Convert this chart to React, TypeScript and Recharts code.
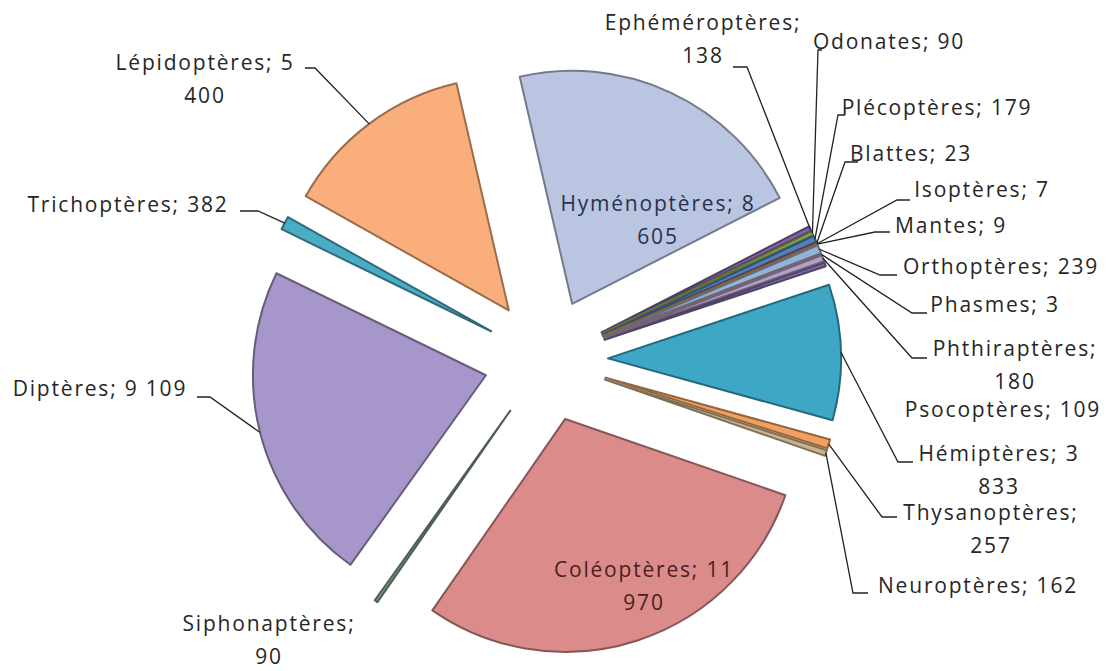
import { Cell, Pie, PieChart, Sector } from "recharts";

const ORDERS = [
  "Hyménoptères",
  "Ephéméroptères",
  "Odonates",
  "Plécoptères",
  "Blattes",
  "Isoptères",
  "Mantes",
  "Orthoptères",
  "Phasmes",
  "Phthiraptères",
  "Psocoptères",
  "Hémiptères",
  "Thysanoptères",
  "Neuroptères",
  "Coléoptères",
  "Siphonaptères",
  "Diptères",
  "Trichoptères",
  "Lépidoptères",
];
const COUNTS = [
  8605, 138, 90, 179, 23, 7, 9, 239, 3, 180, 109, 3833, 257, 162, 11970, 90,
  9109, 382, 5400,
];
const COLORS = [
  "#b9c5e1", "#8064a2", "#9bbb59", "#4f81bd", "#c0504d", "#4bacc6", "#f79646",
  "#95b3d7", "#d99694", "#b3a2c7", "#7f6aa6", "#3ea7c6", "#f0a060", "#c9b48a",
  "#da8b8a", "#7f9a86", "#a696c9", "#4bacc6", "#f9ae7b",
];
// words kept on the first line of each label (0 = one line)
const LINE_BREAKS = [2, 1, 0, 0, 0, 0, 0, 0, 0, 1, 0, 2, 1, 0, 2, 1, 0, 0, 2];

// label placement: text centre, first line y, and the elbow of the leader line
const LABEL_SPOTS: { x: number; y: number; elbow?: number[][]; color?: string }[] = [
  { x: 658, y: 203, color: "#27324d" },
  { x: 703, y: 22, elbow: [[733, 67], [747, 67]] },
  { x: 889, y: 41, elbow: [[822, 50], [818, 50]] },
  { x: 937, y: 107, elbow: [[845, 115], [838, 115]] },
  { x: 911, y: 153, elbow: [[858, 162], [845, 162]] },
  { x: 982, y: 189, elbow: [[910, 200], [897, 200]] },
  { x: 951, y: 225, elbow: [[890, 232], [875, 232]] },
  { x: 1001, y: 266, elbow: [[897, 275], [880, 275]] },
  { x: 995, y: 304, elbow: [[927, 313], [912, 313]] },
  { x: 1015, y: 348, elbow: [[927, 358], [912, 358]] },
  { x: 1003, y: 409 },
  { x: 999, y: 453, elbow: [[913, 462], [898, 462]] },
  { x: 991, y: 512, elbow: [[897, 517], [882, 517]] },
  { x: 978, y: 585, elbow: [[868, 593], [853, 593]] },
  { x: 644, y: 569, color: "#4a1e1e" },
  { x: 269, y: 623 },
  { x: 100, y: 388, elbow: [[197, 397], [210, 397]] },
  { x: 128, y: 204, elbow: [[240, 211], [258, 211]] },
  { x: 205, y: 62, elbow: [[305, 68], [315, 68]] },
];

const data = ORDERS.map((name, i) => ({ name, value: COUNTS[i] }));

const EXPLODE = 62;
const RADIUS = 233;
const LINE_H = 33;
const RAD = Math.PI / 180;

const fmt = (v: number) => String(v).replace(/\B(?=(\d{3})+(?!\d))/g, " ");

const shade = (hex: string, f: number) => {
  const n = parseInt(hex.slice(1), 16);
  const c = [(n >> 16) & 255, (n >> 8) & 255, n & 255].map((v) => Math.round(v * f));
  return `rgb(${c.join(",")})`;
};

function ExplodedSlice(props: any) {
  const { cx, cy, midAngle, innerRadius, outerRadius, startAngle, endAngle, fill } = props;
  const a = -midAngle * RAD;
  return (
    <Sector
      cx={cx + EXPLODE * Math.cos(a)}
      cy={cy + EXPLODE * Math.sin(a)}
      innerRadius={innerRadius}
      outerRadius={outerRadius}
      startAngle={startAngle}
      endAngle={endAngle}
      fill={fill}
      stroke={shade(fill, 0.62)}
      strokeWidth={2}
      strokeLinejoin="round"
    />
  );
}

function renderLabel(props: any) {
  const { cx, cy, midAngle, outerRadius, index } = props;
  const spot = LABEL_SPOTS[index];
  const words = `${ORDERS[index]}; ${fmt(COUNTS[index])}`.split(" ");
  const brk = LINE_BREAKS[index];
  const lines = brk ? [words.slice(0, brk).join(" "), words.slice(brk).join(" ")] : [words.join(" ")];
  const a = -midAngle * RAD;
  const r = outerRadius + EXPLODE;
  const sx = cx + r * Math.cos(a);
  const sy = cy + r * Math.sin(a);
  return (
    <g key={`lbl-${index}`}>
      {spot.elbow && (
        <polyline
          points={[...spot.elbow, [sx, sy]].map((p) => p.join(",")).join(" ")}
          fill="none"
          stroke="#222"
          strokeWidth={1.3}
        />
      )}
      {lines.map((line, j) => (
        <text
          key={j}
          x={spot.x}
          y={spot.y + j * LINE_H}
          textAnchor="middle"
          dominantBaseline="central"
          fill={spot.color ?? "#262626"}
          fontFamily="'Open Sans', sans-serif"
          fontSize={21}
          letterSpacing={1.8}
        >
          {line}
        </text>
      ))}
    </g>
  );
}

export default function App() {
  return (
    <div style={{ position: "absolute", left: 0, top: 0, width: 1113, height: 671, background: "#fff" }}>
      <PieChart width={1113} height={671} margin={{ top: 0, right: 0, bottom: 0, left: 0 }}>
        <Pie
          data={data}
          dataKey="value"
          nameKey="name"
          cx={546}
          cy={360}
          outerRadius={RADIUS}
          startAngle={103}
          endAngle={-257}
          isAnimationActive={false}
          shape={ExplodedSlice}
          activeShape={ExplodedSlice}
          inactiveShape={ExplodedSlice}
          label={renderLabel}
          labelLine={false}
          stroke="none"
        >
          {data.map((_, i) => (
            <Cell key={i} fill={COLORS[i]} />
          ))}
        </Pie>
      </PieChart>
    </div>
  );
}
